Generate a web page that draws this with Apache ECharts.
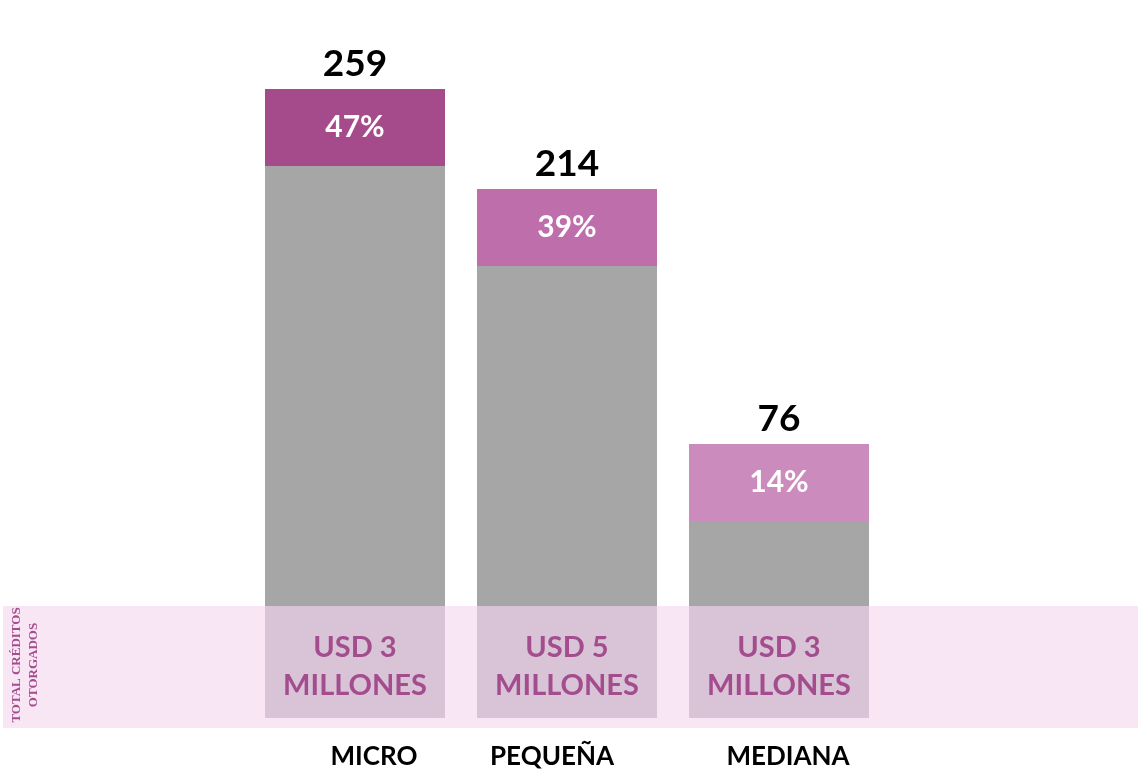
<!DOCTYPE html>
<html>
<head>
<meta charset="utf-8">
<script src="https://cdn.jsdelivr.net/npm/echarts@6/dist/echarts.min.js"></script>
<style>
  html, body { margin: 0; padding: 0; background: #fff; }
  #chart { width: 1138px; height: 772px; }
</style>
</head>
<body>
<div id="chart"></div>
<script>
// categorias y valores
const categories = ['MICRO', 'PEQUEÑA', 'MEDIANA'];
const totals = [259, 214, 76];
const shares = ['47%', '39%', '14%'];
const amounts = ['USD 3\nMILLONES', 'USD 5\nMILLONES', 'USD 3\nMILLONES'];
// alturas de las barras (escala del dibujo, no proporcional a los totales)
const baseHeights = [56, 56, 56];     // parte bajo la franja rosa
const grayHeights = [220, 170, 42.5]; // parte gris
const capHeights = [38.5, 38.5, 38.5];
const capColors = ['#a54b8c', '#be6eab', '#cc8bbd'];

const FONT = 'Lato, "Open Sans", sans-serif';
const PURPLE = '#a44d8e';

// desplazamiento de cada etiqueta de categoria respecto al centro de la barra
const catPad = [[0, 0, 0, 38], [0, 30, 0, 0], [0, 0, 0, 18]];
const catRich = {};
categories.forEach((c, i) => {
    catRich['c' + i] = {
        fontFamily: FONT, fontWeight: 'bold', fontSize: 26, color: '#000',
        padding: catPad[i]
    };
});

const chart = echarts.init(document.getElementById('chart'), null, { renderer: 'canvas' });

chart.setOption({
    animation: false,
    backgroundColor: '#fff',
    grid: { left: 249, right: 253, top: 78, bottom: 54 },
    xAxis: {
        type: 'category',
        data: categories,
        axisLine: { show: false },
        axisTick: { show: false },
        axisLabel: {
            margin: 26,
            formatter: (v, i) => `{c${i}|${v}}`,
            rich: catRich
        }
    },
    yAxis: { type: 'value', min: 0, max: 320, show: false, splitLine: { show: false } },
    graphic: [
        {
            type: 'rect', z: -10,
            shape: { x: 3, y: 606, width: 1135, height: 122 },
            style: { fill: '#f8e6f5' }
        },
        {
            type: 'text', z: 10,
            x: 25, y: 665, rotation: Math.PI / 2,
            style: {
                text: 'TOTAL CRÉDITOS\nOTORGADOS',
                fill: PURPLE,
                font: 'bold 13px "Liberation Serif", serif',
                align: 'center', verticalAlign: 'middle',
                lineHeight: 17
            }
        }
    ],
    series: [
        {
            name: 'base', type: 'bar', stack: 't', barWidth: 180,
            data: baseHeights,
            itemStyle: { color: '#d8c4d6' },
            label: {
                show: true, position: 'inside', offset: [0, 5],
                formatter: p => amounts[p.dataIndex],
                fontFamily: FONT, fontWeight: 'bold', fontSize: 29,
                lineHeight: 38, color: PURPLE
            }
        },
        {
            name: 'gris', type: 'bar', stack: 't', barWidth: 180,
            data: grayHeights,
            itemStyle: { color: '#a6a6a6' }
        },
        {
            name: 'cap', type: 'bar', stack: 't', barWidth: 180,
            data: capHeights.map((v, i) => ({ value: v, itemStyle: { color: capColors[i] } })),
            label: {
                show: true, position: 'inside',
                formatter: p => shares[p.dataIndex],
                fontFamily: FONT, fontWeight: 'bold', fontSize: 30, color: '#fff'
            }
        },
        {
            name: 'total', type: 'bar', stack: 't', barWidth: 180,
            data: totals.map(() => 0),
            itemStyle: { color: 'transparent' },
            label: {
                show: true, position: 'top', distance: 6,
                formatter: p => totals[p.dataIndex],
                fontFamily: FONT, fontWeight: 'bold', fontSize: 37, color: '#000'
            }
        }
    ]
});
</script>
</body>
</html>
